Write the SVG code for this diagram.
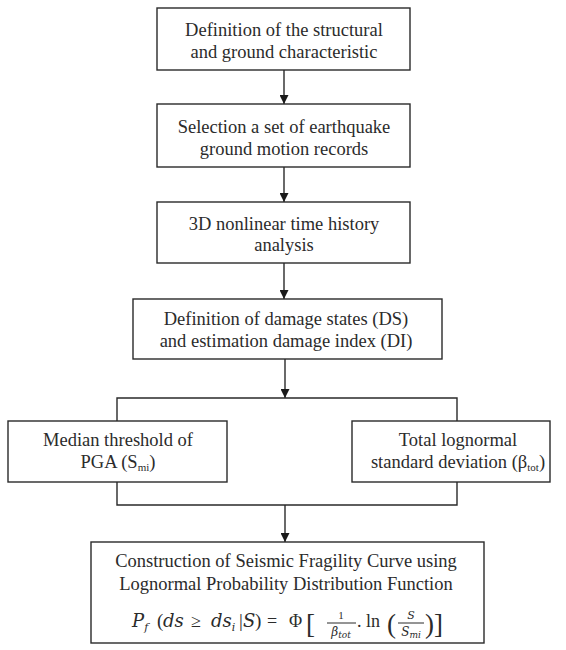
<svg xmlns="http://www.w3.org/2000/svg" width="566" height="650" viewBox="0 0 566 650">
<style>
.box{fill:#fff;stroke:#2a2a2a;stroke-width:1.4}
.t{font-family:"Liberation Serif","Times New Roman",serif;font-size:18.5px;fill:#2b2b2b;text-anchor:middle}
.m{font-family:"DejaVu Serif","Liberation Serif",serif;font-style:italic;fill:#2b2b2b}
.u{font-family:"Liberation Serif",serif;fill:#2b2b2b}
.c{fill:none;stroke:#2a2a2a;stroke-width:1.4}
</style>
<defs>
<marker id="ah" viewBox="0 0 10 10" refX="10" refY="5" markerWidth="9" markerHeight="9" markerUnits="userSpaceOnUse" orient="auto">
<path d="M0,0 L10,5 L0,10 Z" fill="#1a1a1a"/>
</marker>
</defs>
<rect width="566" height="650" fill="#fff"/>
<g id="connectors">
<line class="c" x1="284" y1="70" x2="284" y2="104" marker-end="url(#ah)"/>
<line class="c" x1="284" y1="167" x2="284" y2="202" marker-end="url(#ah)"/>
<line class="c" x1="284" y1="263" x2="284" y2="299" marker-end="url(#ah)"/>
<line class="c" x1="285" y1="359" x2="285" y2="398" marker-end="url(#ah)"/>
<polyline class="c" points="117,421 117,398 457,398 457,421"/>
<polyline class="c" points="117,482 117,505 457,505 457,482"/>
<line class="c" x1="285" y1="505" x2="285" y2="542" marker-end="url(#ah)"/>
</g>
<g id="n1">
<rect class="box" x="157" y="8" width="253" height="62"/>
<text class="t" x="284" y="36">Definition of the structural</text>
<text class="t" x="284" y="58">and ground characteristic</text>
</g>
<g id="n2">
<rect class="box" x="157" y="104" width="253" height="63"/>
<text class="t" x="284" y="133">Selection a set of earthquake</text>
<text class="t" x="284" y="155">ground motion records</text>
</g>
<g id="n3">
<rect class="box" x="157" y="202" width="253" height="61"/>
<text class="t" x="284" y="230">3D nonlinear time history</text>
<text class="t" x="284" y="251">analysis</text>
</g>
<g id="n4">
<rect class="box" x="133" y="299" width="309" height="60"/>
<text class="t" x="286" y="325">Definition of damage states (DS)</text>
<text class="t" x="286" y="347">and estimation damage index (DI)</text>
</g>
<g id="n5">
<rect class="box" x="8" y="421" width="219" height="61"/>
<text class="t" x="118" y="446">Median threshold of</text>
<text class="t" x="118" y="468">PGA (S<tspan font-size="11" dy="3">mi</tspan><tspan dy="-3">)</tspan></text>
</g>
<g id="n6">
<rect class="box" x="352" y="421" width="198" height="61"/>
<text class="t" x="458" y="446">Total lognormal</text>
<text class="t" x="458" y="468">standard deviation (β<tspan font-size="11" dy="3">tot</tspan><tspan dy="-3">)</tspan></text>
</g>
<g id="n7">
<rect class="box" x="91" y="542" width="393" height="101"/>
<text class="t" x="286" y="567">Construction of Seismic Fragility Curve using</text>
<text class="t" x="286" y="590">Lognormal Probability Distribution Function</text>
<g id="formula">
<text class="m" x="132" y="627" font-size="18">P<tspan font-size="11" dy="4">f</tspan></text>
<text class="u" x="157" y="627" font-size="19">(</text>
<text class="m" x="163" y="627" font-size="18">ds</text>
<text class="u" x="191" y="627" font-size="18">≥</text>
<text class="m" x="211" y="627" font-size="18">ds<tspan font-size="11" dy="4">i</tspan></text>
<text class="u" x="239" y="627" font-size="19">|</text>
<text class="m" x="243" y="627" font-size="18">S</text>
<text class="u" x="255" y="627" font-size="19">)</text>
<text class="u" x="267" y="627" font-size="18">=</text>
<text class="u" x="289" y="627" font-size="18">Φ</text>
<text class="u" x="306" y="633" font-size="27">[</text>
<text class="u" x="341" y="619" font-size="11" text-anchor="middle">1</text>
<line x1="327" y1="623" x2="356" y2="623" stroke="#2b2b2b" stroke-width="1"/>
<text class="m" x="341" y="636" font-size="12" text-anchor="middle">β<tspan font-size="9" dy="2">tot</tspan></text>
<text class="u" x="357" y="627" font-size="18">.</text>
<text class="u" x="366" y="627" font-size="18">ln</text>
<text class="u" x="387" y="633" font-size="27">(</text>
<text class="m" x="411" y="619" font-size="11" text-anchor="middle">S</text>
<line x1="398" y1="623" x2="424" y2="623" stroke="#2b2b2b" stroke-width="1"/>
<text class="m" x="411" y="636" font-size="12" text-anchor="middle">S<tspan font-size="9" dy="2">mi</tspan></text>
<text class="u" x="425" y="633" font-size="27">)</text>
<text class="u" x="434" y="633" font-size="27">]</text>
</g>
</g>
</svg>
